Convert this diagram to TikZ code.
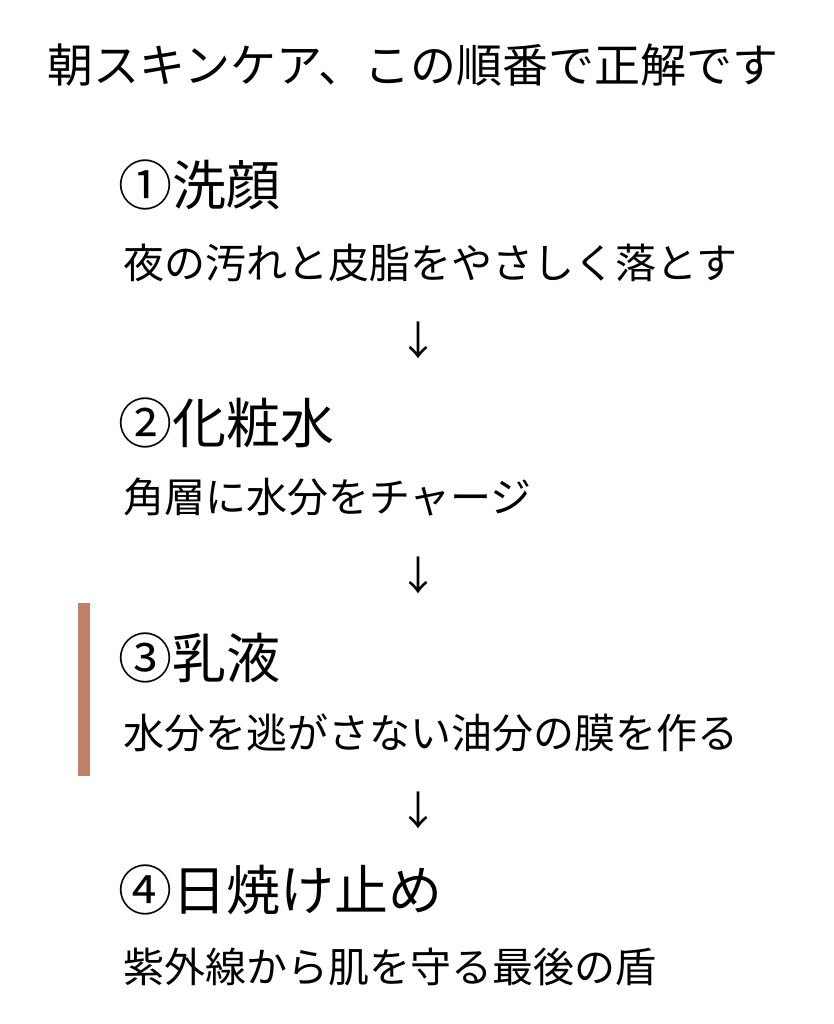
\documentclass[tikz,border=0pt]{standalone}
\usepackage{fontspec}
\setmainfont{Noto Sans CJK JP}
\definecolor{barc}{HTML}{C08068}
\begin{document}
\begin{tikzpicture}[x=1pt,y=-1pt,
  title/.style={font=\fontsize{46}{50}\selectfont,inner sep=0},
  head/.style={anchor=west,font=\fontsize{54}{60}\selectfont,inner sep=0},
  sub/.style={anchor=west,font=\fontsize{41}{46}\selectfont,inner sep=0},
  arr/.style={font=\fontsize{40}{46}\selectfont,inner sep=0}]
\useasboundingbox[fill=white] (0,0) rectangle (834,1024);
\node[title] (t) at (413,65) {朝スキンケア、この順番で正解です};
\node[head] (h1) at (118,185) {①洗顔};
\node[sub] (s1) at (123,263) {夜の汚れと皮脂をやさしく落とす};
\node[arr] (a1) at (418,340) {↓};
\node[head] (h2) at (118,423) {②化粧水};
\node[sub] (s2) at (123,497) {角層に水分をチャージ};
\node[arr] (a2) at (418,575) {↓};
\node[head] (h3) at (118,658) {③乳液};
\node[sub] (s3) at (123,733) {水分を逃がさない油分の膜を作る};
\node[arr] (a3) at (418,810) {↓};
\node[head] (h4) at (118,890) {④日焼け止め};
\node[sub] (s4) at (123,967) {紫外線から肌を守る最後の盾};
\fill[barc] (78,603) rectangle (90,776);
\end{tikzpicture}
\end{document}
